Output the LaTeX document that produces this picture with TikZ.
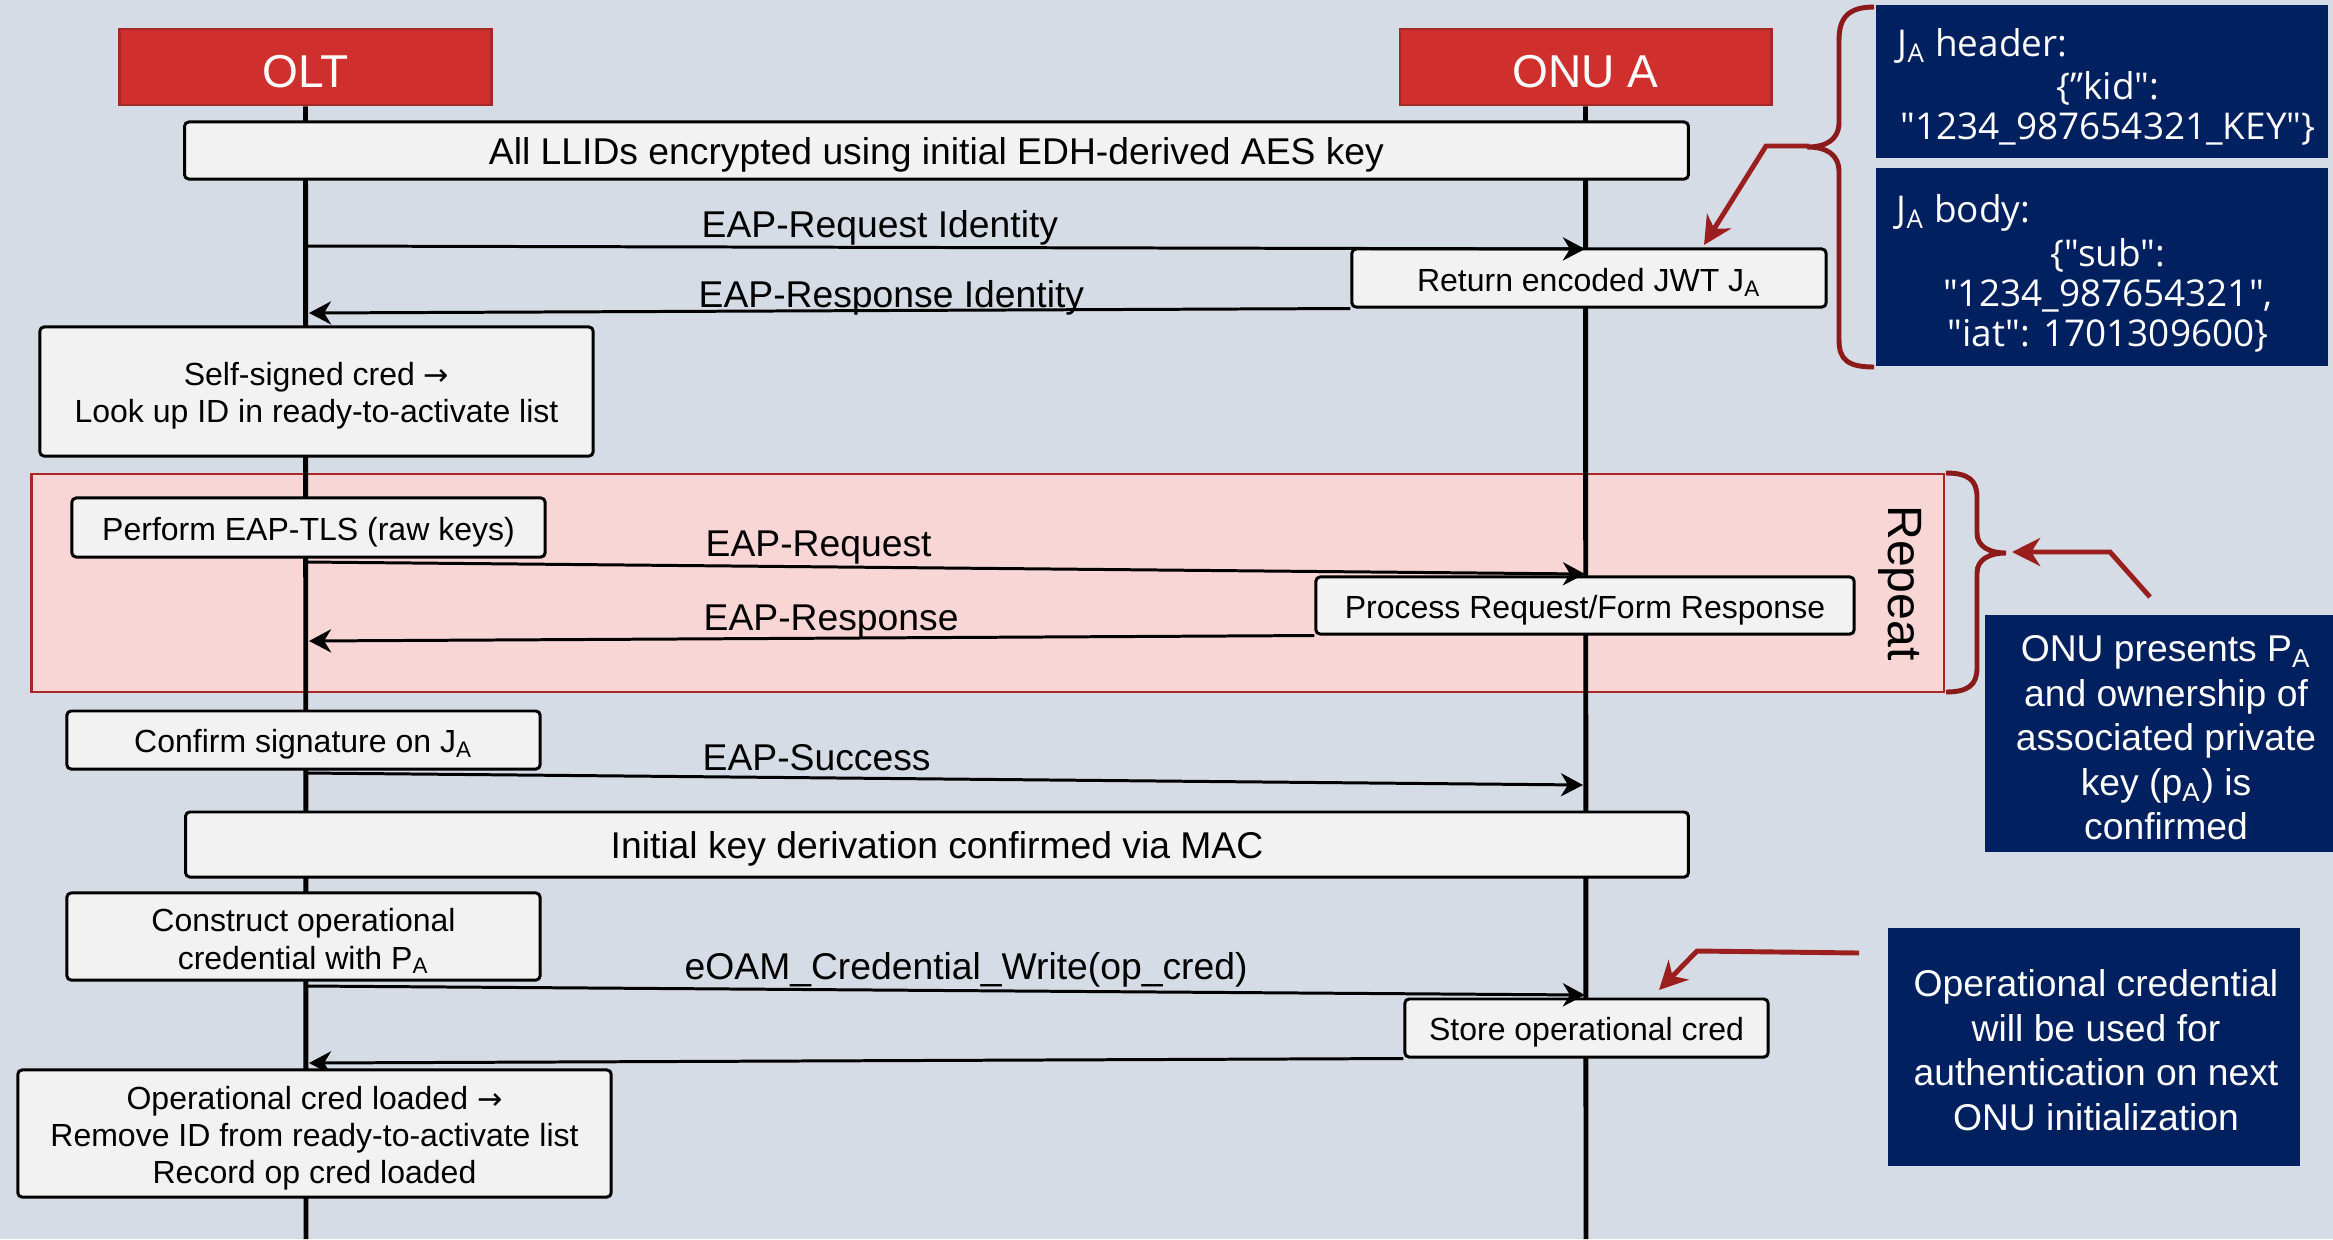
\documentclass[tikz,border=0pt]{standalone}
\usepackage{fontspec}
\setmainfont{Liberation Sans}
\newfontfamily\jsonfamily{Open Sans}
\newfontfamily\arrowfamily{DejaVu Sans}
\usetikzlibrary{arrows.meta}
\definecolor{bgc}{HTML}{D6DCE5}
\definecolor{hdrred}{HTML}{D0302D}
\definecolor{hdrline}{HTML}{A32A27}
\definecolor{navyc}{HTML}{002060}
\definecolor{pinkfill}{HTML}{F8D6D6}
\definecolor{pinkline}{HTML}{A8282A}
\definecolor{boxfill}{HTML}{F2F2F2}
\definecolor{annred}{HTML}{9B1F1F}
\definecolor{bracered}{HTML}{8B1A1A}
\newcommand\hdrfnt{\fontsize{13.1pt}{15pt}\selectfont}
\newcommand\repfnt{\fontsize{13.7pt}{15pt}\selectfont}
\newcommand\lblfnt{\fontsize{10.6pt}{12.7pt}\selectfont}
\newcommand\boxfnt{\fontsize{9.1pt}{10.6pt}\selectfont}
\newcommand\notefnt{\fontsize{10.6pt}{12.65pt}\selectfont}
\newcommand\jsonfnt{\jsonfamily\fontsize{10.5pt}{11.4pt}\selectfont}
\newcommand\rarr{{\arrowfamily\fontsize{8.6pt}{10pt}\selectfont →}}
\begin{document}
\begin{tikzpicture}[x=0.01cm,y=-0.01cm,
  hdr/.style={fill=hdrred,draw=hdrline,line width=0.8pt,inner sep=0pt,minimum width=3.71cm,minimum height=0.76cm},
  hdrtxt/.style={text=white,font=\hdrfnt,inner sep=0pt},
  procbox/.style={fill=boxfill,draw=black,line width=0.85pt,rounded corners=1.2pt,inner sep=0pt},
  boxtxt/.style={font=\boxfnt,align=center,inner sep=0pt},
  widetxt/.style={font=\lblfnt,inner sep=0pt},
  navybox/.style={fill=navyc,inner sep=0pt},
  notetxt/.style={text=white,font=\notefnt,align=center,inner sep=0pt},
  codetxt/.style={text=white,font=\jsonfnt,inner sep=0pt},
  lbl/.style={font=\lblfnt,anchor=west,inner sep=0pt},
  life/.style={line width=1.4pt},
  msg/.style={line width=0.85pt,-{Stealth[length=6.3pt,width=6.6pt,inset=2pt]}},
  redarrow/.style={draw=annred,line width=1.4pt,line join=miter,-{Stealth[length=8pt,width=8pt,inset=2.5pt]}},
  bracepath/.style={draw=bracered,line width=1.4pt}
]
\useasboundingbox (0,0) rectangle (2333,1239);
\fill[bgc] (0,0) rectangle (2333,1239);

% lifeline ends and message end points
\coordinate (oltbot) at (306,1239);
\coordinate (onubot) at (1586,1239);
\coordinate (m1s) at (306,246);  \coordinate (m1e) at (1585,249);
\coordinate (m2e) at (309,313);
\coordinate (m3s) at (306,562);  \coordinate (m3e) at (1585,574);
\coordinate (m4e) at (309,641);
\coordinate (m5s) at (306,773);  \coordinate (m5e) at (1583,785);
\coordinate (m6s) at (306,986);  \coordinate (m6e) at (1585,995);
\coordinate (m7e) at (309,1063);

% repeat region
\node[draw=pinkline,fill=pinkfill,line width=0.6pt,minimum width=19.11cm,minimum height=2.18cm,inner sep=0pt] (rep) at (987.5,583) {};
\node[font=\repfnt,rotate=-90,inner sep=0pt] (reptxt) at (1900,583) {Repeat};

% participants
\node[hdr] (olt) at (305.5,67) {};
\node[hdrtxt] (olttxt) at ([yshift=-1.2pt]olt.center) {OLT};
\node[hdr] (onu) at (1585.5,67) {};
\node[hdrtxt] (onutxt) at ([yshift=-1.2pt]onu.center) {ONU A};
\draw[life] (olt.south) -- (oltbot);
\draw[life] (onu.south) -- (onubot);

% boxes
\node[procbox,minimum width=15.03cm,minimum height=0.57cm] (llid) at (936.5,150.5) {};
\node[widetxt] (llidtxt) at ([yshift=-1.3pt]llid.center) {All LLIDs encrypted using initial EDH-derived AES key};
\node[procbox,minimum width=4.74cm,minimum height=0.58cm] (ret) at (1589,278) {};
\node[boxtxt] (rettxt) at ([yshift=-1.3pt]ret.center) {Return encoded JWT J\textsubscript{A}};
\node[procbox,minimum width=5.53cm,minimum height=1.29cm] (self) at (316.5,391.5) {};
\node[boxtxt] (selftxt) at ([yshift=-1.3pt]self.center) {Self-signed cred \rarr\\Look up ID in ready-to-activate list};
\node[procbox,minimum width=4.73cm,minimum height=0.59cm] (perf) at (308.5,527.5) {};
\node[boxtxt] (perftxt) at ([yshift=-1.3pt]perf.center) {Perform EAP-TLS (raw keys)};
\node[procbox,minimum width=5.38cm,minimum height=0.57cm] (proc) at (1585,605.5) {};
\node[boxtxt] (proctxt) at ([yshift=-1.3pt]proc.center) {Process Request/Form Response};
\node[procbox,minimum width=4.73cm,minimum height=0.58cm] (conf) at (303.5,740) {};
\node[boxtxt] (conftxt) at ([yshift=-1.3pt]conf.center) {Confirm signature on J\textsubscript{A}};
\node[procbox,minimum width=15.02cm,minimum height=0.65cm] (ikd) at (937,844.5) {};
\node[widetxt] (ikdtxt) at ([yshift=-1.3pt]ikd.center) {Initial key derivation confirmed via MAC};
\node[procbox,minimum width=4.73cm,minimum height=0.87cm] (cons) at (303.5,936.5) {};
\node[boxtxt] (constxt) at ([yshift=-1.3pt]cons.center) {Construct operational\\credential with P\textsubscript{A}};
\node[procbox,minimum width=3.63cm,minimum height=0.58cm] (store) at (1586.5,1028) {};
\node[boxtxt] (storetxt) at ([yshift=-1.3pt]store.center) {Store operational cred};

% messages
\draw[msg] (m1s) -- (m1e);
\draw[msg] (ret.south west) -- (m2e);
\draw[msg] (m3s) -- (m3e);
\draw[msg] (proc.south west) -- (m4e);
\draw[msg] (m5s) -- (m5e);
\draw[msg] (m6s) -- (m6e);
\draw[msg] (store.south west) -- (m7e);

\node[procbox,minimum width=5.93cm,minimum height=1.27cm] (opc) at (314.5,1133.5) {};
\node[boxtxt] (opctxt) at ([yshift=-1.3pt]opc.center) {Operational cred loaded \rarr\\Remove ID from ready-to-activate list\\Record op cred loaded};

% message labels
\node[lbl] (l1) at (701,227.5) {EAP-Request Identity};
\node[lbl] (l2) at (698,297.5) {EAP-Response Identity};
\node[lbl] (l3) at (705,547.5) {EAP-Request};
\node[lbl] (l4) at (703,621.5) {EAP-Response};
\node[lbl] (l5) at (702,757.5) {EAP-Success};
\node[lbl] (l6) at (684,969.5) {eOAM\_Credential\_Write(op\_cred)};

% JWT boxes
\node[navybox,minimum width=4.52cm,minimum height=1.53cm] (hdrbox) at (2102,81.5) {};
\node[codetxt,anchor=west] (hdrlbl) at (1897,46) {J\textsubscript{A} header:};
\node[codetxt,align=center] (hdrjson) at (2108,108) {\{”kid":\\"1234\_987654321\_KEY"\}};
\node[navybox,minimum width=4.52cm,minimum height=1.98cm] (bodybox) at (2102,267) {};
\node[codetxt,anchor=west] (bodylbl) at (1896,213) {J\textsubscript{A} body:};
\node[codetxt,align=center] (bodyjson) at (2108,295) {\{"sub":\\"1234\_987654321",\\"iat": 1701309600\}};

% notes
\node[navybox,minimum width=3.48cm,minimum height=2.37cm] (note1) at (2159,733.5) {};
\node[notetxt] (note1txt) at (2166,738) {ONU presents P\textsubscript{A}\\and ownership of\\associated private\\key (p\textsubscript{A}) is\\confirmed};
\node[navybox,minimum width=4.12cm,minimum height=2.38cm] (note2) at (2094,1047) {};
\node[notetxt] (note2txt) at (2096,1050) {Operational credential\\will be used for\\authentication on next\\ONU initialization};

% braces
\draw[bracepath] (1874,7) .. controls (1848,7) and (1839,18) .. (1839,40) -- (1839,122) .. controls (1839,140) and (1826,147) .. (1807,147) .. controls (1826,147) and (1839,154) .. (1839,172) -- (1839,340) .. controls (1839,360) and (1848,367) .. (1874,367);
\draw[bracepath] (1946,473) .. controls (1968,473) and (1977,480) .. (1977,497) -- (1977,533) .. controls (1977,547) and (1990,553) .. (2006,553) .. controls (1990,553) and (1977,559) .. (1977,573) -- (1977,668) .. controls (1977,685) and (1968,692) .. (1946,692);

% annotation arrows
\coordinate (b1tip) at (1809,146);
\coordinate (r1k) at (1766,146);
\coordinate (r1e) at (1704,245);
\coordinate (r2s) at (2150,597);
\coordinate (r2k) at (2110,552);
\coordinate (r2e) at (2012,552);
\coordinate (r3s) at (1859,953);
\coordinate (r3k) at (1697,951);
\coordinate (r3e) at (1659,990);
\draw[redarrow] (b1tip) -- (r1k) -- (r1e);
\draw[redarrow] (r2s) -- (r2k) -- (r2e);
\draw[redarrow] (r3s) -- (r3k) -- (r3e);
\end{tikzpicture}
\end{document}
